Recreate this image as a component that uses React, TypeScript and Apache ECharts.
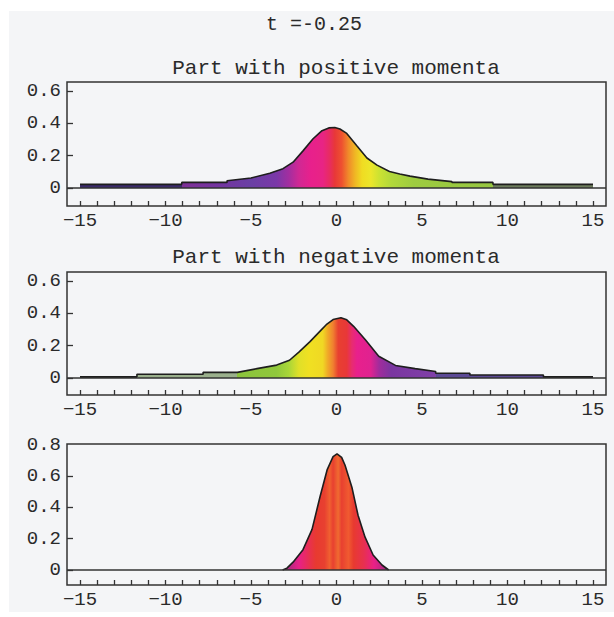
import React, { useEffect, useRef } from "react";
import * as echarts from "echarts";

// ---------- data ----------
const TIME_LABEL = "t =-0.25";
const PANEL_TITLES = ["Part with positive momenta", "Part with negative momenta"];

const X_LABELS = [-15, -10, -5, 0, 5, 10, 15];
const X_TICKS = [-15, -14, -13, -12, -11, -10, -9, -8, -7, -6, -5, -4, -3, -2, -1, 0, 1, 2, 3, 4, 5, 6, 7, 8, 9, 10, 11, 12, 13, 14, 15];
const Y_LABELS_TOP = [0, 0.2, 0.4, 0.6];
const Y_LABELS_BOTTOM = [0, 0.2, 0.4, 0.6, 0.8];
const Y_TICKS_BOTTOM = [0, 0.2, 0.4, 0.6];

// positive momenta part
const POS_X = [-15, -9.05, -9.05, -6.4, -6.4, -5.0, -3.9, -3.13, -2.54, -1.96, -1.37, -0.85, -0.45, -0.1, 0.2, 0.6, 1.2, 1.78, 2.37, 3.1, 3.7, 4.3, 5.35, 6.75, 6.75, 9.15, 9.15, 15];
const POS_Y = [0.023, 0.023, 0.035, 0.035, 0.045, 0.062, 0.092, 0.12, 0.16, 0.23, 0.305, 0.355, 0.372, 0.375, 0.365, 0.338, 0.26, 0.186, 0.142, 0.102, 0.087, 0.074, 0.055, 0.04, 0.035, 0.035, 0.023, 0.023];

// negative momenta part
const NEG_X = [-15, -11.67, -11.67, -7.8, -7.8, -5.8, -4.65, -3.5, -2.75, -2.2, -1.55, -0.96, -0.6, -0.2, 0.26, 0.6, 1.0, 1.7, 2.47, 3.45, 4.6, 5.8, 5.8, 7.8, 7.8, 12.1, 12.1, 15];
const NEG_Y = [0.008, 0.008, 0.023, 0.023, 0.035, 0.035, 0.058, 0.08, 0.11, 0.16, 0.225, 0.29, 0.33, 0.362, 0.373, 0.36, 0.32, 0.235, 0.135, 0.078, 0.058, 0.04, 0.03, 0.03, 0.019, 0.019, 0.008, 0.008];

// full wave packet
const FULL_X = [-3.15, -2.9, -2.54, -1.96, -1.43, -0.96, -0.55, -0.2, 0.03, 0.3, 0.5, 0.9, 1.26, 1.67, 2.14, 2.66, 3.05];
const FULL_Y = [0, 0.012, 0.05, 0.13, 0.26, 0.47, 0.64, 0.725, 0.743, 0.72, 0.67, 0.53, 0.35, 0.21, 0.096, 0.032, 0];

// ---------- styles ----------
const FONT = '"Liberation Mono", "DejaVu Sans Mono", monospace';
const INK = "#2a2a2a";
const BG = "#f4f5f7";

const POS_COLORS: [number, string][] = [
  [-15, "#3b2b6b"], [-9.05, "#3b2b6b"], [-9.05, "#7e3096"], [-7, "#7434a0"], [-5, "#6a40a4"],
  [-3.5, "#7a38a8"], [-2.8, "#a22ea0"], [-2.2, "#d02894"], [-1.5, "#e8208c"], [-0.8, "#e82484"],
  [-0.4, "#e82c60"], [-0.1, "#e83838"], [0.3, "#ee5030"], [0.7, "#f08a2a"], [1.1, "#f0b824"],
  [1.5, "#f0dc22"], [2.0, "#ece62a"], [2.5, "#cce232"], [3.2, "#b2d83a"], [4.5, "#9ecc40"],
  [9.15, "#96c640"], [9.15, "#6c7c5c"], [15, "#6c7c5c"],
];
const NEG_COLORS: [number, string][] = [
  [-15, "#222222"], [-11.67, "#222222"], [-11.67, "#9ab08c"], [-5.8, "#9ab08c"], [-5.8, "#8cc43c"],
  [-3.5, "#90c83c"], [-2.8, "#a8d638"], [-2.2, "#e0e028"], [-1.6, "#f0e022"], [-0.8, "#f0d824"],
  [-0.5, "#f0a828"], [-0.2, "#f08030"], [0.1, "#e84030"], [0.6, "#e83838"], [0.9, "#e82c70"],
  [1.2, "#e8208c"], [2.0, "#e02290"], [2.5, "#a02c9c"], [3.2, "#7a36a0"], [5.8, "#8040a8"],
  [5.8, "#5c4a96"], [12.1, "#5c4a96"], [12.1, "#222222"], [15, "#222222"],
];
const FULL_COLORS: [number, string][] = [
  [-3.15, "#3a2a3a"], [-2.8, "#b02880"], [-2.2, "#e82088"], [-1.6, "#e83050"], [-1.2, "#e83a30"],
  [-0.7, "#e84030"], [-0.4, "#f06030"], [-0.2, "#e84030"], [0.1, "#f06a30"], [0.3, "#e84030"],
  [0.7, "#f05a30"], [1.0, "#e83a30"], [1.6, "#e83050"], [2.2, "#e82088"], [2.8, "#b02880"],
  [3.05, "#3a2a3a"],
];

const GRIDS = [
  { top: 82, height: 124, ymin: -0.111, ymax: 0.656 },
  { top: 272, height: 123, ymin: -0.105, ymax: 0.656 },
  { top: 444, height: 141, ymin: -0.096, ymax: 0.806 },
];

function gradient(xs: number[], stops: [number, string][]) {
  const x0 = Math.min(...xs);
  const x1 = Math.max(...xs);
  return new echarts.graphic.LinearGradient(
    0, 0, 1, 0,
    stops.map(([x, c]) => ({ offset: Math.max(0, Math.min(1, (x - x0) / (x1 - x0))), color: c }))
  );
}

function pairs(xs: number[], ys: number[]) {
  return xs.map((x, i) => [x, ys[i]]);
}

export default function App() {
  const ref = useRef<HTMLDivElement>(null);

  useEffect(() => {
    if (!ref.current) return;
    const chart = echarts.init(ref.current, undefined, { renderer: "svg" });

    const fmtY = (v: number) => (Math.abs(v) < 1e-9 ? "0" : v.toFixed(1));
    const fmtX = (v: number) => (v < 0 ? "\u2212" + Math.abs(v) : String(v));

    const seriesData = [
      { xs: POS_X, ys: POS_Y, stops: POS_COLORS },
      { xs: NEG_X, ys: NEG_Y, stops: NEG_COLORS },
      { xs: FULL_X, ys: FULL_Y, stops: FULL_COLORS },
    ];

    const option: any = {
      animation: false,
      backgroundColor: "#ffffff",
      graphic: [
        { type: "rect", z: -10, shape: { x: 9, y: 11, width: 605, height: 601 }, style: { fill: BG } },
        { type: "text", x: 314, y: 24, style: { text: TIME_LABEL, font: `20px ${FONT}`, fill: INK, textAlign: "center", textVerticalAlign: "middle" } },
        { type: "text", x: 336, y: 68, style: { text: PANEL_TITLES[0], font: `21px ${FONT}`, fill: INK, textAlign: "center", textVerticalAlign: "middle" } },
        { type: "text", x: 336, y: 257, style: { text: PANEL_TITLES[1], font: `21px ${FONT}`, fill: INK, textAlign: "center", textVerticalAlign: "middle" } },
      ],
      grid: GRIDS.map((g) => ({
        left: 67, width: 539, top: g.top, height: g.height,
        show: true, borderColor: "#333", borderWidth: 1.5, backgroundColor: "transparent",
      })),
      xAxis: GRIDS.map((_, i) => ({
        type: "value", gridIndex: i, min: -15.76, max: 15.76, position: "bottom",
        axisLine: { show: false, onZero: false },
        splitLine: { show: false },
        axisTick: { show: true, inside: true, length: 5, customValues: X_TICKS, lineStyle: { color: "#333", width: 1.3 } },
        axisLabel: { customValues: X_LABELS, formatter: fmtX, margin: 5, fontFamily: FONT, fontSize: 19, color: INK },
      })),
      yAxis: GRIDS.map((g, i) => ({
        type: "value", gridIndex: i, min: g.ymin, max: g.ymax, position: "left",
        axisLine: { show: false, onZero: false },
        splitLine: { show: false },
        axisTick: { show: true, inside: true, length: 6, customValues: i === 2 ? Y_TICKS_BOTTOM : Y_LABELS_TOP, lineStyle: { color: "#333", width: 1.3 } },
        axisLabel: { customValues: i === 2 ? Y_LABELS_BOTTOM : Y_LABELS_TOP, formatter: fmtY, margin: 6, fontFamily: FONT, fontSize: 19, color: INK },
      })),
      series: seriesData.map((s, i) => ({
        type: "line", xAxisIndex: i, yAxisIndex: i,
        data: pairs(s.xs, s.ys),
        showSymbol: false, symbol: "none",
        lineStyle: { color: "#1e1e1e", width: 1.6 },
        areaStyle: { color: gradient(s.xs, s.stops), opacity: 1 },
        markLine: {
          silent: true, symbol: ["none", "none"], label: { show: false },
          lineStyle: { color: "#333", width: 1.5, type: "solid" },
          data: [{ yAxis: 0 }],
        },
      })),
    };

    chart.setOption(option);
    return () => chart.dispose();
  }, []);

  return (
    <div
      ref={ref}
      style={{ position: "absolute", left: 0, top: 0, width: 614, height: 617 }}
    />
  );
}
